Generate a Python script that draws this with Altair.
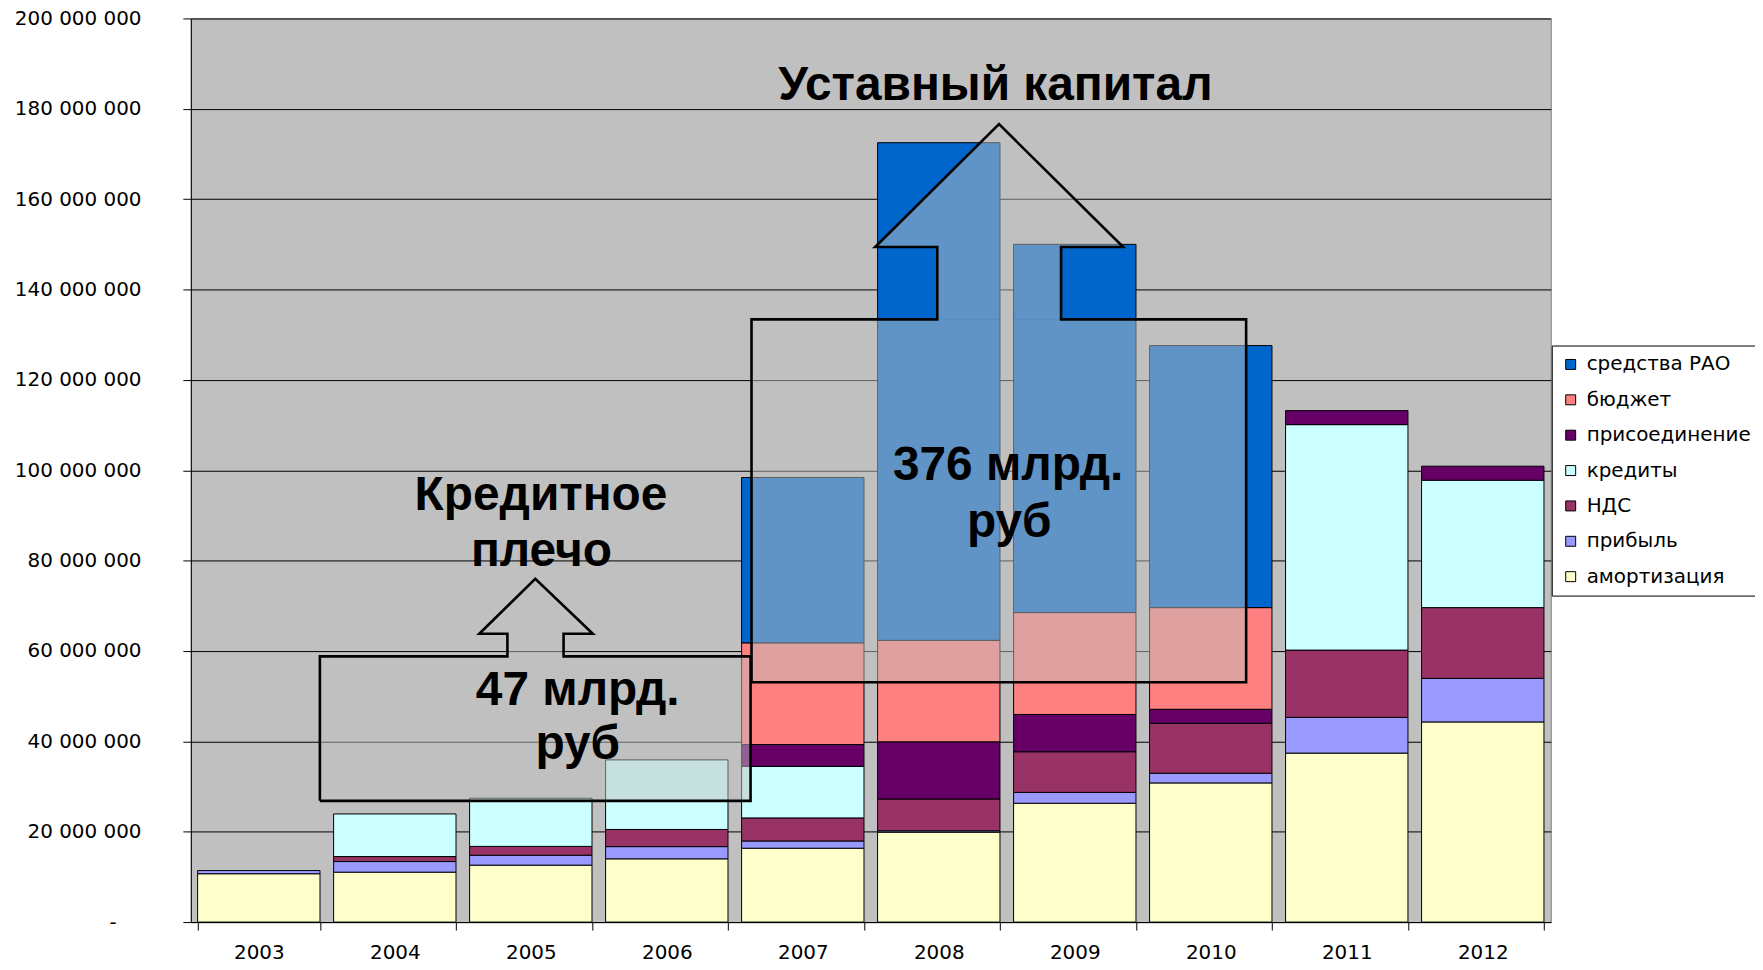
import altair as alt
import pandas as pd

# ---------------- data (thousand rubles) ----------------
years = ["2003", "2004", "2005", "2006", "2007", "2008", "2009", "2010", "2011", "2012"]

# legend order (top to bottom) and colours
series = ["средства РАО", "бюджет", "присоединение", "кредиты", "НДС", "прибыль", "амортизация"]
colors = ["#0066CC", "#FF8080", "#660066", "#CCFFFF", "#993366", "#9999FF", "#FFFFCC"]

amortizacia = [10_700_000, 11_050_000, 12_600_000, 14_000_000, 16_350_000, 19_900_000, 26_300_000, 30_800_000, 37_400_000, 44_300_000]
pribyl = [700_000, 2_350_000, 2_200_000, 2_700_000, 1_600_000, 300_000, 2_400_000, 2_150_000, 7_900_000, 9_650_000]
nds = [0, 1_100_000, 1_950_000, 3_800_000, 5_100_000, 7_050_000, 9_000_000, 11_050_000, 14_900_000, 15_650_000]
kredity = [0, 9_430_000, 10_650_000, 15_400_000, 11_400_000, 0, 0, 0, 49_900_000, 28_200_000]
prisoedinenie = [0, 0, 0, 0, 4_850_000, 12_650_000, 8_250_000, 3_100_000, 3_100_000, 3_100_000]
budzhet = [0, 0, 0, 0, 22_500_000, 22_450_000, 22_550_000, 22_500_000, 0, 0]
sredstva_rao = [0, 0, 0, 0, 36_600_000, 110_150_000, 81_500_000, 58_000_000, 0, 0]

y_ticks = [0, 20_000_000, 40_000_000, 60_000_000, 80_000_000, 100_000_000,
           120_000_000, 140_000_000, 160_000_000, 180_000_000, 200_000_000]

# stack order bottom -> top
stack_series = [
    ("амортизация", amortizacia),
    ("прибыль", pribyl),
    ("НДС", nds),
    ("кредиты", kredity),
    ("присоединение", prisoedinenie),
    ("бюджет", budzhet),
    ("средства РАО", sredstva_rao),
]

rows = []
for k, (name, vals) in enumerate(stack_series):
    for yr, v in zip(years, vals):
        rows.append({"year": yr, "series": name, "value": v, "stack": k})
df = pd.DataFrame(rows)

# ---------------- annotation arrows (x in category units 0..10, y in data units) ----------------
arrow_names = ["Уставный капитал", "Кредитное плечо"]
box_x0 = [4.123, 0.949]
box_x1 = [7.760, 4.116]
box_y0 = [53_080_000, 26_830_000]
box_y1 = [133_400_000, 58_810_000]
shaft_x0 = [5.489, 2.328]
shaft_x1 = [6.399, 2.741]
head_y = [149_400_000, 63_820_000]
head_x0 = [5.032, 2.121]
head_x1 = [6.856, 2.956]
tip_x = [5.943, 2.533]
tip_y = [176_600_000, 75_950_000]

ann_lines = ["Уставный капитал", "376 млрд.", "руб", "Кредитное", "плечо", "47 млрд.", "руб"]
ann_x = [5.916, 6.01, 6.018, 2.575, 2.578, 2.845, 2.845]
ann_y = [181_950_000, 97_800_000, 85_300_000, 91_200_000, 78_700_000, 48_000_000, 36_000_000]

outline_rows, rect_rows, tri_rows = [], [], []
for a, nm in enumerate(arrow_names):
    pts = [
        (box_x0[a], box_y0[a]), (box_x0[a], box_y1[a]), (shaft_x0[a], box_y1[a]),
        (shaft_x0[a], head_y[a]), (head_x0[a], head_y[a]), (tip_x[a], tip_y[a]),
        (head_x1[a], head_y[a]), (shaft_x1[a], head_y[a]), (shaft_x1[a], box_y1[a]),
        (box_x1[a], box_y1[a]), (box_x1[a], box_y0[a]), (box_x0[a], box_y0[a]),
    ]
    for i, (px, py) in enumerate(pts):
        outline_rows.append({"arrow": nm, "i": i, "x": px, "y": py})
    rect_rows.append({"arrow": nm, "x": box_x0[a], "x2": box_x1[a], "y": box_y0[a], "y2": box_y1[a]})
    rect_rows.append({"arrow": nm, "x": shaft_x0[a], "x2": shaft_x1[a], "y": box_y1[a], "y2": head_y[a]})
    tri_rows.append({"arrow": nm, "x": head_x0[a], "y": head_y[a], "base": head_y[a]})
    tri_rows.append({"arrow": nm, "x": tip_x[a], "y": tip_y[a], "base": head_y[a]})
    tri_rows.append({"arrow": nm, "x": head_x1[a], "y": head_y[a], "base": head_y[a]})

outline_df = pd.DataFrame(outline_rows)
rect_df = pd.DataFrame(rect_rows)
tri_df = pd.DataFrame(tri_rows)
text_df = pd.DataFrame({"x": ann_x, "y": ann_y, "t": ann_lines})

# ---------------- chart ----------------
W, H = 1365, 907
yscale = alt.Scale(domain=[0, 200_000_000], nice=False, zero=True)
xq = alt.Scale(domain=[0, 10], nice=False, zero=False)

label_expr = "datum.value == 0 ? '-' : replace(format(datum.value, ','), regexp(',', 'g'), ' ')"

y_axis = alt.Axis(title=None, values=y_ticks, labelExpr=label_expr,
                  grid=True, gridColor="black", gridWidth=1,
                  domainColor="black", tickColor="black", tickSize=8,
                  labelFont="DejaVu Sans", labelFontSize=20, labelColor="black",
                  labelPadding={"condition": {"test": "datum.value == 0", "value": 67},
                                "value": 42})

bars = alt.Chart(df).transform_filter("datum.value > 0").mark_bar(
    stroke="black", strokeWidth=1
).encode(
    x=alt.X("year:N", sort=years,
            scale=alt.Scale(paddingInner=0.1, paddingOuter=0.05),
            axis=alt.Axis(title=None, labelAngle=0, tickBand="extent", grid=False,
                          domainColor="black", tickColor="black", tickSize=8,
                          labelFont="DejaVu Sans", labelFontSize=20, labelColor="black",
                          labelPadding=13)),
    y=alt.Y("value:Q", stack="zero", scale=yscale, axis=y_axis),
    color=alt.Color("series:N", scale=alt.Scale(domain=series, range=colors),
                    legend=alt.Legend(title=None, orient="none", legendX=1366, legendY=328.3,
                                      fillColor="white", strokeColor="black", padding=9,
                                      rowPadding=15.5, symbolType="square", symbolSize=100,
                                      symbolStrokeColor="black", symbolStrokeWidth=1,
                                      labelFont="DejaVu Sans", labelFontSize=20,
                                      labelLimit=400,
                                      labelColor="black", labelOffset=6)),
    order=alt.Order("stack:Q", sort="ascending"),
)

fill_rects = alt.Chart(rect_df).mark_rect(fill="#C0C0C0", opacity=0.5).encode(
    x=alt.X("x:Q", scale=xq, axis=None),
    x2="x2:Q",
    y=alt.Y("y:Q", scale=yscale, axis=y_axis),
    y2="y2:Q",
)

fill_tri = alt.Chart(tri_df).mark_area(fill="#C0C0C0", opacity=0.5).encode(
    x=alt.X("x:Q", scale=xq, axis=None),
    y=alt.Y("y:Q", scale=yscale, axis=y_axis),
    y2="base:Q",
    detail="arrow:N",
)

outline = alt.Chart(outline_df).mark_line(
    color="black", strokeWidth=2.6, strokeJoin="miter"
).encode(
    x=alt.X("x:Q", scale=xq, axis=None),
    y=alt.Y("y:Q", scale=yscale, axis=y_axis),
    order="i:Q",
    detail="arrow:N",
)

texts = alt.Chart(text_df).mark_text(
    font="Liberation Sans", fontWeight="bold", fontSize=48,
    align="center", baseline="alphabetic", color="black"
).encode(
    x=alt.X("x:Q", scale=xq, axis=None),
    y=alt.Y("y:Q", scale=yscale, axis=y_axis),
    text="t:N",
)

ann = alt.layer(fill_rects, fill_tri, outline, texts)

chart = alt.layer(bars, ann).resolve_scale(x="independent").properties(
    width=W, height=H,
    autosize=alt.AutoSizeParams(type="none"),
    padding={"left": 183.5, "top": 8.7, "right": 205, "bottom": 44},
    background="white",
).configure_view(fill="#C0C0C0", stroke="#808080", strokeWidth=1)

chart.save("out.html", embed_options={"renderer": "svg", "actions": False})
